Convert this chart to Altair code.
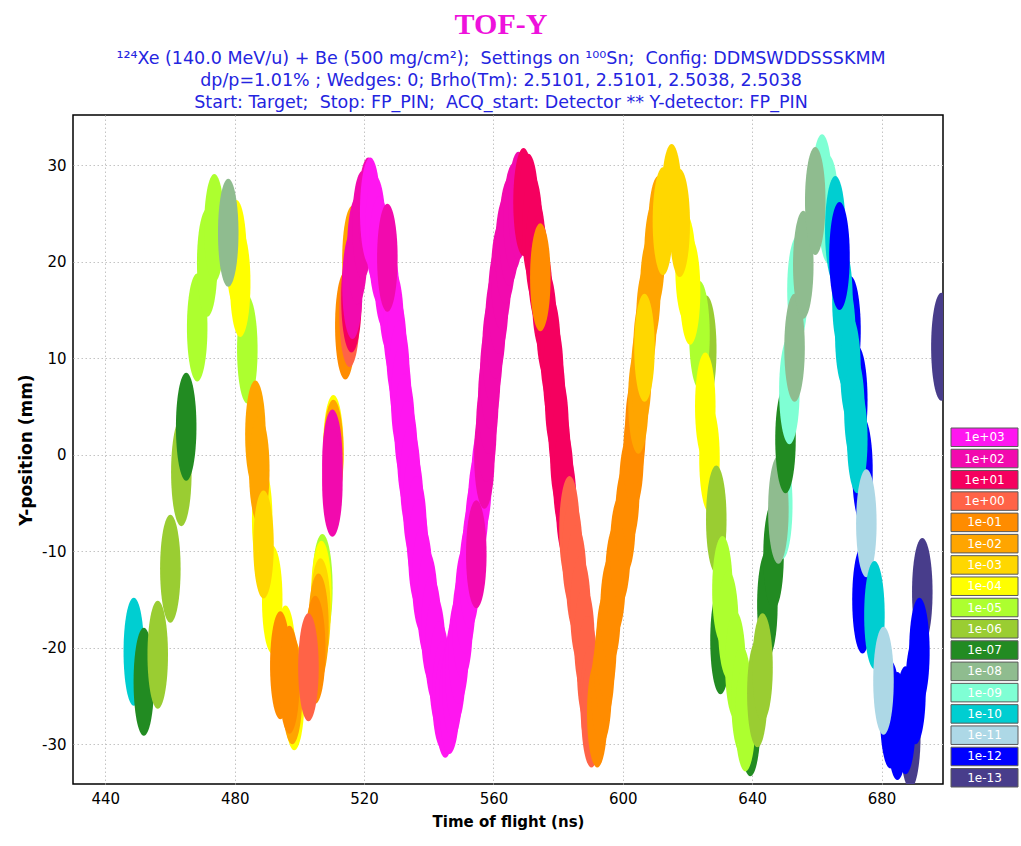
import altair as alt
import pandas as pd

# Rate classes (pps) shown in the colour key, top to bottom, with their fills
rate_labels = ["1e+03", "1e+02", "1e+01", "1e+00", "1e-01", "1e-02", "1e-03",
               "1e-04", "1e-05", "1e-06", "1e-07", "1e-08", "1e-09", "1e-10",
               "1e-11", "1e-12", "1e-13"]
rate_colors = ["#FF16F0", "#F20AAE", "#F5005F", "#FF6347", "#FF8C00", "#FFA500",
               "#FFD700", "#FFFF00", "#ADFF2F", "#9ACD32", "#228B22", "#8FBC8F",
               "#7FFFD4", "#00CED1", "#ADD8E6", "#0000FF", "#483D8B"]

x_ticks = [440, 480, 520, 560, 600, 640, 680]
y_ticks = [-30, -20, -10, 0, 10, 20, 30]

# Fragment ellipse centres: (time of flight [ns], Y position [mm], rate class),
# listed in drawing order (later entries are painted over earlier ones)
left_tail = [
    (448.8, -20.4, "1e-10"), (451.9, -23.5, "1e-07"), (456.2, -20.7, "1e-06"),
    (460.1, -11.8, "1e-06"), (463.5, -1.8, "1e-06"), (465.0, 2.9, "1e-07"),
]

first_wave = [
    (468.4, 13.2, "1e-05"), (471.5, 19.9, "1e-05"), (473.7, 23.5, "1e-05"),
    (483.9, 10.9, "1e-05"), (480.5, 20.8, "1e-04"), (481.7, 17.8, "1e-04"),
    (478.0, 23.0, "1e-08"),
    (488.5, -6.7, "1e-04"), (491.6, -15.0, "1e-04"), (495.7, -21.2, "1e-04"),
    (498.4, -25.0, "1e-04"),
    (486.4, 2.1, "1e-02"), (487.6, -1.6, "1e-02"), (488.9, -9.3, "1e-03"),
    (507.1, -13.8, "1e-05"), (506.8, -14.5, "1e-04"), (506.5, -16.3, "1e-03"),
    (505.9, -17.9, "1e-02"), (504.9, -20.2, "1e-01"), (497.8, -24.4, "1e-02"),
    (494.1, -21.8, "1e-01"), (496.9, -23.3, "1e-01"), (502.8, -22.0, "1e+00"),
]

lone_group = [
    (510.5, 0.6, "1e-04"), (510.5, 0.1, "1e-02"),
    (510.2, -0.9, "1e+02"), (510.2, -2.9, "1e+02"),
]

second_wave = [
    (516.4, 20.2, "1e-02"), (514.2, 13.4, "1e-01"), (515.5, 14.7, "1e+00"),
    (516.1, 16.2, "1e+01"), (516.4, 17.6, "1e+02"), (517.9, 21.2, "1e+02"),
    (519.5, 23.8, "1e+02"), (521.3, 25.2, "1e+02"),
    (521.9, 25.2, "1e+03"), (523.5, 23.3, "1e+03"), (524.7, 21.2, "1e+03"),
    (526.3, 18.6, "1e+03"), (527.8, 16.1, "1e+03"), (529.1, 13.5, "1e+03"),
    (530.0, 10.9, "1e+03"), (530.9, 8.3, "1e+03"), (531.5, 5.7, "1e+03"),
    (532.5, 2.8, "1e+03"), (533.4, 0.0, "1e+03"), (534.3, -2.6, "1e+03"),
    (535.2, -5.2, "1e+03"), (536.2, -7.8, "1e+03"), (536.8, -10.2, "1e+03"),
    (538.0, -12.9, "1e+03"), (539.6, -15.5, "1e+03"), (540.8, -18.1, "1e+03"),
    (542.0, -20.2, "1e+03"), (543.3, -22.8, "1e+03"), (544.2, -24.9, "1e+03"),
    (545.1, -25.8, "1e+03"), (546.4, -25.4, "1e+03"), (547.3, -23.8, "1e+03"),
    (548.2, -22.3, "1e+03"), (549.2, -20.2, "1e+03"), (550.4, -17.6, "1e+03"),
    (551.3, -15.0, "1e+03"), (552.6, -12.4, "1e+03"), (553.5, -10.2, "1e+03"),
    (554.4, -7.8, "1e+03"), (555.3, -5.2, "1e+03"), (556.3, -2.6, "1e+03"),
    (527.2, 20.4, "1e+02"), (554.7, -10.3, "1e+02"),
]

third_wave = [
    (557.2, 0.0, "1e+02"), (557.8, 2.8, "1e+02"), (558.4, 5.7, "1e+02"),
    (559.0, 8.3, "1e+02"), (559.7, 10.9, "1e+02"), (560.6, 13.5, "1e+02"),
    (561.5, 16.1, "1e+02"), (562.4, 18.6, "1e+02"), (563.7, 21.2, "1e+02"),
    (564.9, 23.1, "1e+02"), (566.2, 24.6, "1e+02"), (567.7, 25.8, "1e+02"),
    (569.3, 26.2, "1e+01"), (570.8, 25.6, "1e+01"), (572.0, 23.5, "1e+01"),
    (573.0, 21.2, "1e+01"), (573.9, 19.2, "1e+01"), (575.1, 16.3, "1e+01"),
    (576.4, 13.5, "1e+01"), (577.6, 10.9, "1e+01"), (578.5, 8.3, "1e+01"),
    (579.1, 5.7, "1e+01"), (580.1, 2.8, "1e+01"), (580.7, 0.0, "1e+01"),
    (581.6, -2.6, "1e+01"), (582.5, -5.2, "1e+01"),
    (574.5, 18.4, "1e-01"),
    (583.5, -7.8, "1e+00"), (584.4, -10.2, "1e+00"), (585.6, -12.9, "1e+00"),
    (586.9, -16.1, "1e+00"), (588.1, -19.2, "1e+00"), (589.0, -22.3, "1e+00"),
    (590.0, -25.4, "1e+00"), (590.3, -26.8, "1e+00"),
]

fourth_wave = [
    (592.1, -26.8, "1e-01"), (593.4, -24.4, "1e-01"), (594.3, -21.8, "1e-01"),
    (594.9, -19.7, "1e-01"), (596.2, -16.1, "1e-01"), (597.7, -12.9, "1e-01"),
    (599.2, -9.8, "1e-01"), (600.8, -6.7, "1e-01"), (602.0, -3.6, "1e-01"),
    (603.3, 0.0, "1e-01"), (603.9, 2.6, "1e-01"),
    (604.8, 5.7, "1e-02"), (605.7, 8.3, "1e-02"), (606.4, 10.9, "1e-02"),
    (607.3, 14.0, "1e-02"), (608.5, 17.1, "1e-02"), (609.8, 20.7, "1e-02"),
    (611.0, 23.3, "1e-02"),
    (625.8, 10.9, "1e-06"), (623.7, 12.4, "1e-05"),
    (619.4, 19.4, "1e-04"), (620.8, 17.0, "1e-04"),
    (625.5, 5.0, "1e-04"), (626.8, -0.4, "1e-04"),
    (606.7, 11.1, "1e-03"), (612.4, 24.2, "1e-03"), (615.1, 26.6, "1e-03"),
    (617.6, 24.0, "1e-03"),
    (630.2, -19.2, "1e-07"), (639.4, -27.7, "1e-07"),
    (628.9, -6.7, "1e-06"),
    (630.8, -14.0, "1e-05"), (632.6, -17.6, "1e-05"), (634.8, -21.8, "1e-05"),
    (636.7, -25.4, "1e-05"), (637.9, -27.2, "1e-05"),
]

fifth_wave = [
    (644.7, -15.5, "1e-07"), (646.6, -10.4, "1e-07"),
    (641.6, -24.7, "1e-06"), (643.2, -22.0, "1e-06"),
    (649.3, -5.2, "1e-09"), (648.1, -5.7, "1e-08"), (650.3, 1.6, "1e-07"),
    (651.5, 6.7, "1e-09"), (654.0, 17.1, "1e-09"), (661.6, 27.6, "1e-09"),
    (663.6, 25.4, "1e-09"),
    (653.1, 11.1, "1e-08"), (655.8, 19.7, "1e-08"), (659.5, 26.3, "1e-08"),
    (665.7, 23.3, "1e-10"),
    (670.4, 12.9, "1e-12"), (672.5, 5.7, "1e-12"), (674.1, -1.6, "1e-12"),
    (674.1, -15.0, "1e-12"),
    (667.9, 16.1, "1e-10"), (668.8, 12.4, "1e-10"), (670.4, 8.8, "1e-10"),
    (671.6, 4.7, "1e-10"), (672.5, 1.6, "1e-10"),
    (667.0, 20.6, "1e-12"),
    (692.6, -14.2, "1e-13"), (688.9, -29.0, "1e-13"),
    (682.7, -26.9, "1e-12"), (684.9, -28.1, "1e-12"), (687.4, -27.5, "1e-12"),
    (690.5, -24.4, "1e-12"), (691.7, -20.4, "1e-12"),
    (675.3, -7.1, "1e-11"), (677.8, -16.6, "1e-10"), (680.6, -23.4, "1e-11"),
    (698.5, 11.2, "1e-13"),
]

segments = [left_tail, first_wave, lone_group, second_wave,
            third_wave, fourth_wave, fifth_wave]
rows = [pt for seg in segments for pt in seg]
spots = pd.DataFrame(rows, columns=["tof", "ypos", "rate"])
spots["order"] = range(len(spots))

# Upright ellipse drawn as a custom symbol (unit box -1..1, scaled by size)
ELLIPSE = "M0,-1A0.19,1,0,1,1,0,1A0.19,1,0,1,1,0,-1Z"

SANS = "DejaVu Sans"
color_scale = alt.Scale(domain=rate_labels, range=rate_colors)

spots_layer = alt.Chart(spots).mark_point(
    shape=ELLIPSE, size=108 ** 2, filled=True, opacity=1, strokeWidth=0, clip=True
).encode(
    x=alt.X("tof:Q",
            scale=alt.Scale(domain=[430, 699], nice=False, zero=False),
            axis=alt.Axis(title="Time of flight (ns)", values=x_ticks,
                          titlePadding=8)),
    y=alt.Y("ypos:Q",
            scale=alt.Scale(domain=[-34.1, 35.2], nice=False, zero=False),
            axis=alt.Axis(title="Y-position (mm)", values=y_ticks,
                          labelExpr="'' + datum.value", titlePadding=6,
                          titleFontSize=17)),
    color=alt.Color("rate:N", scale=color_scale, legend=None),
    order=alt.Order("order:Q"),
)

# Colour key: one labelled box per rate class, stacked at the right
key = pd.DataFrame({"rate": rate_labels})
key_y = alt.Y("rate:N", sort=rate_labels,
              scale=alt.Scale(domain=rate_labels, range=[313, 672],
                              paddingInner=0.13, paddingOuter=0),
              axis=None)
key_x = alt.Scale(domain=[0, 1], range=[878, 945])

key_boxes = alt.Chart(key).mark_rect(stroke="#5a5a5a", strokeWidth=1).encode(
    y=key_y,
    x=alt.X(datum=0, scale=key_x, axis=None),
    x2=alt.X2(datum=1),
    color=alt.Color("rate:N", scale=color_scale, legend=None),
)
key_text = alt.Chart(key).mark_text(
    color="white", font=SANS, fontSize=12, align="center", baseline="middle"
).encode(
    y=key_y,
    x=alt.X(datum=0.5, scale=key_x, axis=None),
    text="rate:N",
)
key_layer = alt.layer(key_boxes, key_text)

GAP = "\u00a0 "
subtitle = [
    "\u00b9\u00b2\u2074Xe (140.0 MeV/u) + Be (500 mg/cm\u00b2);" + GAP
    + "Settings on \u00b9\u2070\u2070Sn;" + GAP + "Config: DDMSWDDSSSKMM",
    "dp/p=1.01% ; Wedges: 0; Brho(Tm): 2.5101, 2.5101, 2.5038, 2.5038",
    "Start: Target;" + GAP + "Stop: FP_PIN;" + GAP
    + "ACQ_start: Detector ** Y-detector: FP_PIN",
]

chart = alt.layer(spots_layer, key_layer).resolve_scale(
    x="independent", y="independent"
).properties(
    width=870,
    height=669,
    autosize=alt.AutoSizeParams(type="none"),
    padding={"left": 73, "top": 115, "right": 78, "bottom": 62},
    title=alt.TitleParams(
        text="TOF-Y",
        subtitle=subtitle,
        font="Liberation Serif",
        fontSize=30,
        fontWeight="bold",
        color="#EE12DC",
        subtitleFont=SANS,
        subtitleFontSize=17.5,
        subtitleColor="#2424E0",
        subtitlePadding=10,
        subtitleLineHeight=22,
        anchor="middle",
        offset=4,
        dx=-7,
    ),
).configure_view(
    stroke="black", strokeWidth=1.5
).configure_axis(
    labelFont=SANS,
    labelFontSize=15,
    labelColor="black",
    titleFont=SANS,
    titleFontSize=15,
    titleFontWeight="bold",
    titleColor="black",
    grid=True,
    gridColor="#c4c4c4",
    gridDash=[1.5, 2.5],
    gridWidth=1,
    domain=False,
    ticks=False,
    labelPadding=7,
)

chart.save("out.html", embed_options={"renderer": "svg", "actions": False})
